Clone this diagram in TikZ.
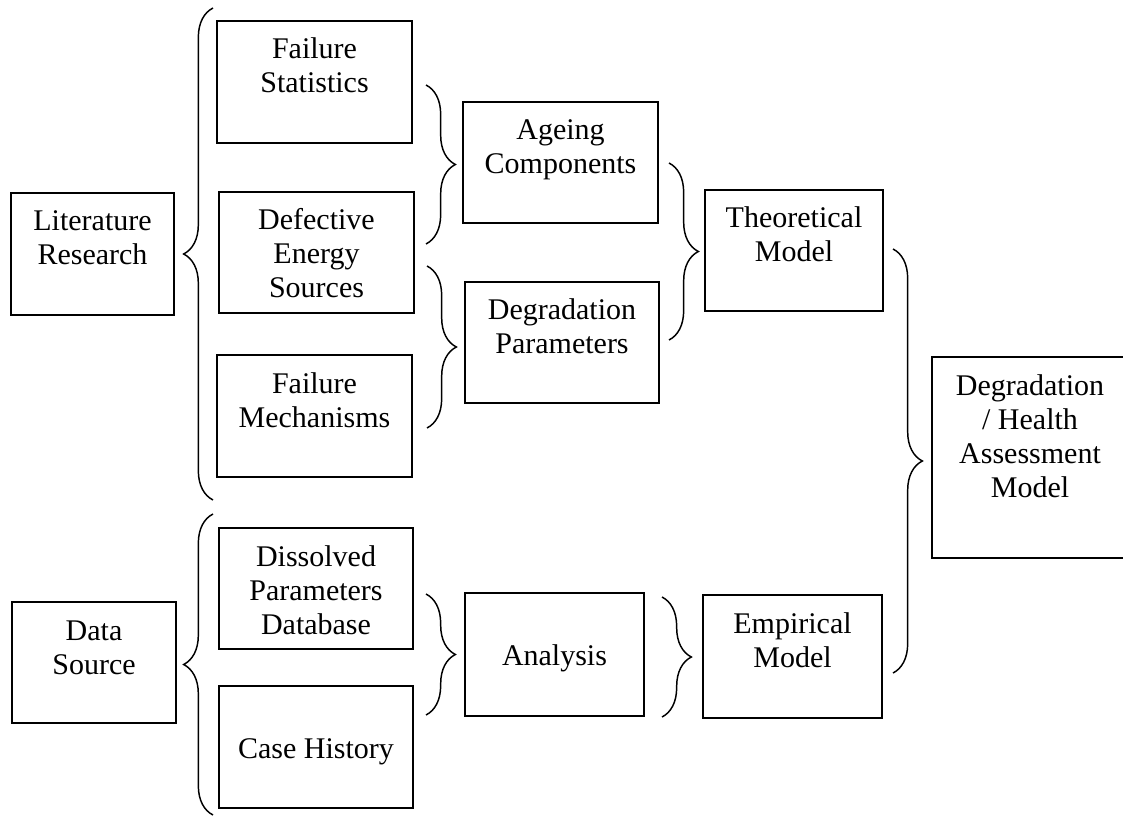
\documentclass[tikz,border=0pt]{standalone}
\usepackage{fontspec}
\setmainfont{Liberation Serif}
\usetikzlibrary{decorations.pathreplacing}

\newlength\px
\setlength\px{0.75pt}
% fixed size box, text hanging from the top
\newcommand{\cell}[3]{\parbox[c][#2\px][t]{#1\px}{\centering\rule{0pt}{38\px}#3}}

\begin{document}
\begin{tikzpicture}[
  x=0.75pt, y=-0.75pt,
  every node/.style={font=\fontsize{22.5pt}{25.5pt}\selectfont},
  box/.style={draw=black, line width=1.1pt, inner sep=0pt, outer sep=0pt, anchor=north west},
  brc/.style={decorate, decoration={brace, amplitude=22pt}, line width=1.1pt},
]

\useasboundingbox (0,0) rectangle (1123,816);

% sources
\node[box] (lit) at (11,193) {\cell{163}{122}{Literature\\Research}};
\node[box] (dat) at (12,602) {\cell{164}{121}{Data\\Source}};

% first column
\node[box] (fs)  at (217,21)  {\cell{195}{122}{Failure\\Statistics}};
\node[box] (des) at (219,192) {\cell{195}{121}{Defective\\Energy\\Sources}};
\node[box] (fm)  at (217,355) {\cell{195}{122}{Failure\\Mechanisms}};
\node[box] (dpd) at (219,528) {\cell{194}{121}{Dissolved\\Parameters\\Database}};
\node[box] (ch)  at (219,686) {\cell{194}{122}{\\Case History}};

% second column
\node[box] (age)  at (463,102) {\cell{195}{121}{Ageing\\Components}};
\node[box] (dpar) at (465,282) {\cell{194}{121}{Degradation\\Parameters}};
\node[box] (ana)  at (465,593) {\cell{179}{123}{\\Analysis}};

% models
\node[box] (theo) at (705,190) {\cell{178}{121}{Theoretical\\Model}};
\node[box] (emp)  at (703,595) {\cell{179}{123}{Empirical\\Model}};
\node[box] (dham) at (932,357) {\cell{196}{201}{Degradation\\/ Health\\Assessment\\Model}};

% brace ends
\coordinate (litA) at (213,500);
\coordinate (litB) at (213,8);
\coordinate (datA) at (213,815);
\coordinate (datB) at (213,514);
\coordinate (ageA) at (426,85);
\coordinate (ageB) at (426,244);
\coordinate (dparA) at (427,266);
\coordinate (dparB) at (427,428);
\coordinate (anaA) at (426,594);
\coordinate (anaB) at (426,715);
\coordinate (theoA) at (669,163);
\coordinate (theoB) at (669,340);
\coordinate (empA) at (662,597);
\coordinate (empB) at (662,717);
\coordinate (dhamA) at (893,249);
\coordinate (dhamB) at (893,673);

\draw[brc] (litA) -- (litB);
\draw[brc] (datA) -- (datB);
\draw[brc] (ageA) -- (ageB);
\draw[brc] (dparA) -- (dparB);
\draw[brc] (anaA) -- (anaB);
\draw[brc] (theoA) -- (theoB);
\draw[brc] (empA) -- (empB);
\draw[brc] (dhamA) -- (dhamB);

\end{tikzpicture}
\end{document}
